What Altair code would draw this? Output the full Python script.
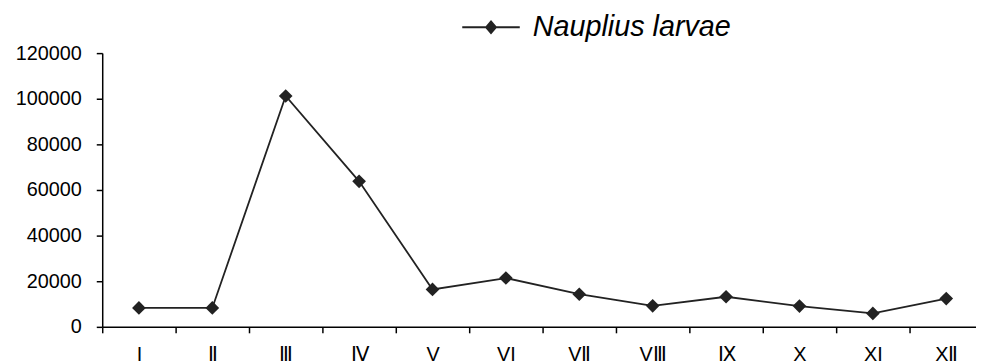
import altair as alt
import pandas as pd

months = ["I", "Ⅱ", "Ⅲ", "Ⅳ", "V", "VI", "VⅡ", "VⅢ", "Ⅸ", "X", "XI", "XⅡ"]
values = [8300, 8300, 101200, 63800, 16400, 21400, 14300, 9200, 13200, 9100, 5900, 12400]
series = "Nauplius larvae"
y_ticks = [0, 20000, 40000, 60000, 80000, 100000, 120000]

df = pd.DataFrame({"month": months, "value": values, "series": [series] * len(months)})

FONT = "Liberation Sans"
INK = "#222222"

x_enc = alt.X(
    "month:N",
    sort=months,
    scale=alt.Scale(range=[0, 888], paddingInner=0, paddingOuter=0),
    axis=alt.Axis(
        title=None, tickBand="extent", labelAngle=0, labelFontSize=20, labelFont=FONT,
        labelColor="#000000", tickSize=6, tickColor="#000000", tickWidth=1.5,
        domainColor="#000000", domainWidth=1.5, labelPadding=12, grid=False,
    ),
)
y_enc = alt.Y(
    "value:Q",
    scale=alt.Scale(domain=[0, 120000], nice=False),
    axis=alt.Axis(
        title=None, values=y_ticks, format="d", labelFontSize=20, labelFont=FONT,
        labelColor="#000000", tickSize=6, tickColor="#000000", tickWidth=1.5,
        domainColor="#000000", domainWidth=1.5, labelPadding=15, grid=False,
    ),
)

legend_symbol = "M-1,0L1,0M-0.17,0L0,-0.2L0.17,0L0,0.2Z"

line = alt.Chart(df).mark_line(strokeWidth=1.8).encode(
    x=x_enc,
    y=y_enc,
    color=alt.Color(
        "series:N",
        scale=alt.Scale(range=[INK]),
        legend=alt.Legend(
            title=None, orient="none", legendX=362, legendY=-56, padding=0,
            symbolType=legend_symbol, symbolSize=3364, symbolStrokeWidth=2,
            symbolFillColor=INK, symbolStrokeColor=INK,
            labelFontSize=29, labelFont=FONT, labelFontStyle="italic",
            labelColor="#000000", labelOffset=12, labelLimit=400,
        ),
    ),
)

points = alt.Chart(df).mark_point(shape="diamond", filled=True, size=190, color=INK, opacity=1).encode(
    x=alt.X("month:N", sort=months),
    y="value:Q",
)

chart = alt.layer(line, points).properties(
    width=881,
    height=276,
    padding={"left": 95, "top": 44, "right": 0, "bottom": 40},
    autosize=alt.AutoSizeParams(type="none"),
).configure(background="#ffffff").configure_view(stroke=None)

chart.save("out.html", embed_options={"renderer": "svg", "actions": False})
